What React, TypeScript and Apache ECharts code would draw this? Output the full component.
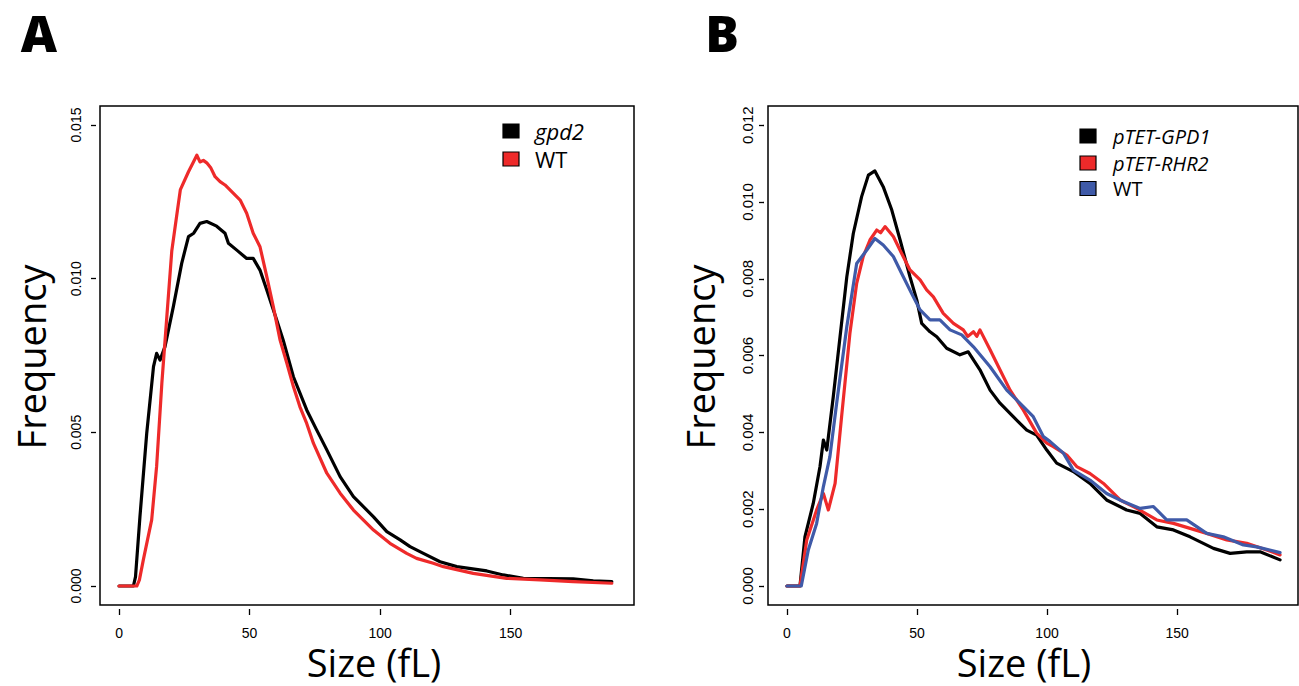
import React, { useEffect, useRef } from "react";
import * as echarts from "echarts";

// ---------- data ----------
const X_TICKS = [0, 50, 100, 150];
const Y_TICKS_A = [0, 0.005, 0.01, 0.015];
const Y_TICKS_B = [0, 0.002, 0.004, 0.006, 0.008, 0.01, 0.012];

const NAMES_A = ["gpd2", "WT"];
const ITALIC_A = [true, false];
const NAMES_B = ["pTET-GPD1", "pTET-RHR2", "WT"];
const ITALIC_B = [true, true, false];

const A_GPD2: [number, number][] = [
  [0, 0], [5.5, 0], [6.3, 0.0003], [8, 0.00225], [10.6, 0.00497], [13.2, 0.00714], [14.4, 0.00757],
  [15.7, 0.00735], [17.6, 0.00779], [20.8, 0.00909], [24, 0.0105], [26.6, 0.01137], [28.6, 0.01148],
  [31, 0.0118], [33.6, 0.01186], [37.4, 0.01171], [40.6, 0.01148], [41.9, 0.01115], [45.1, 0.01093],
  [48.9, 0.01066], [51.4, 0.01066], [54, 0.01028], [56.6, 0.00963], [60.4, 0.00866], [62.9, 0.008],
  [66.8, 0.00681], [71.9, 0.00573], [75.7, 0.00508], [79.6, 0.00443], [84.7, 0.00356], [89.8, 0.00291],
  [97.5, 0.00225], [102.6, 0.00177], [107.7, 0.0015], [111.5, 0.00128], [116.6, 0.00106], [123, 0.00079],
  [129.4, 0.00063], [140.9, 0.00049], [147.2, 0.00036], [154.9, 0.00025], [174, 0.00023], [181.7, 0.00017],
  [188.8, 0.00014],
];
const A_WT: [number, number][] = [
  [0, 0], [6.8, 0], [7.8, 0.0002], [9.3, 0.00085], [12.5, 0.00215], [14.4, 0.0039], [16.4, 0.0066],
  [18.3, 0.00876], [20.2, 0.0109], [22, 0.012], [23.5, 0.0129], [26.6, 0.01348], [28.5, 0.0138],
  [29.8, 0.01402], [31, 0.0138], [32.3, 0.01385], [33.6, 0.01377], [35.2, 0.0136], [36.8, 0.01332],
  [38.7, 0.01316], [40.6, 0.01305], [42.5, 0.01289], [46.4, 0.01256], [48.9, 0.01213], [51.4, 0.01148],
  [54, 0.01104], [56.6, 0.01007], [59.1, 0.00909], [61.7, 0.008], [64.3, 0.00725], [66.8, 0.00649],
  [69.3, 0.00583], [71.9, 0.00529], [74.5, 0.00464], [79.6, 0.00367], [84.7, 0.00302], [89.8, 0.00247],
  [97.5, 0.00182], [103.8, 0.00139], [110.2, 0.00106], [114, 0.0009], [120.4, 0.00074], [124.3, 0.00063],
  [135.7, 0.00041], [148.5, 0.00025], [161.3, 0.0002], [174, 0.00014], [188.8, 0.00009],
];
const B_GPD1: [number, number][] = [
  [0, 0], [5, 0], [6.9, 0.00128], [10.1, 0.00215], [12.7, 0.00311], [14, 0.0038], [15.3, 0.00354],
  [17.8, 0.00493], [20.4, 0.00649], [23, 0.00805], [25.5, 0.00918], [28.7, 0.01014], [31.3, 0.0107],
  [33.8, 0.01081], [37, 0.0104], [40.3, 0.00979], [43.5, 0.00901], [47.3, 0.00805], [49.9, 0.00745],
  [51.8, 0.00684], [55, 0.00662], [57.6, 0.00649], [61.4, 0.00619], [66.5, 0.00602], [69.7, 0.0061],
  [74.2, 0.00563], [78.1, 0.0051], [81.9, 0.00476], [87, 0.00441], [92.2, 0.00406], [96, 0.00393],
  [99.9, 0.00354], [103.7, 0.0032], [110.1, 0.00298], [116.5, 0.00267], [122.9, 0.00224], [130.6, 0.00198],
  [135.8, 0.00189], [142.2, 0.00154], [148.6, 0.00146], [155, 0.00128], [164, 0.00098], [170.4, 0.00085],
  [176.8, 0.00089], [181.9, 0.00089], [189.6, 0.00068],
];
const B_RHR2: [number, number][] = [
  [0, 0], [5, 0], [7.6, 0.0012], [11.4, 0.00198], [14, 0.00241], [15.9, 0.00198], [18.5, 0.00267],
  [21, 0.00441], [24.2, 0.00658], [26.8, 0.00788], [29.3, 0.00858], [31.9, 0.00901], [34.5, 0.00927],
  [36, 0.0092], [37.7, 0.00936], [40.9, 0.0091], [44.1, 0.00866], [47.3, 0.00823], [51.2, 0.00797],
  [53.7, 0.00771], [56.3, 0.00753], [60.1, 0.0071], [64, 0.00684], [67.8, 0.00667], [69.5, 0.0065],
  [71.7, 0.00662], [73, 0.0065], [74.2, 0.00667], [78.1, 0.00615], [81.9, 0.00563], [85.8, 0.0051],
  [90.9, 0.00458], [96, 0.00398], [99.9, 0.00372], [102.4, 0.00363], [107.6, 0.00341], [111.4, 0.00311],
  [116.5, 0.00293], [121.7, 0.00267], [128.1, 0.00224], [134.5, 0.00202], [142.2, 0.00172], [148.6, 0.00163],
  [155, 0.0015], [161.4, 0.00137], [169.1, 0.0012], [176.8, 0.00111], [184.5, 0.00094], [189.6, 0.00081],
];
const B_WT: [number, number][] = [
  [0, 0], [5.5, 0], [8.2, 0.00094], [11.4, 0.00163], [14, 0.00259], [16.5, 0.00337], [19.1, 0.00476],
  [23, 0.00675], [26.8, 0.0084], [30.7, 0.00875], [33.8, 0.00905], [37, 0.00888], [40.9, 0.00858],
  [44.1, 0.00814], [47.9, 0.00762], [51.2, 0.00719], [55, 0.00693], [58.8, 0.00693], [62.7, 0.00667],
  [67.2, 0.00654], [71.7, 0.00623], [78.1, 0.00571], [84.5, 0.0051], [90.9, 0.00467], [94.7, 0.00441],
  [98.6, 0.00389], [101.2, 0.00376], [106.3, 0.00346], [110.1, 0.00302], [116.5, 0.00276], [122.9, 0.00241],
  [129.3, 0.0022], [135.8, 0.00202], [140.9, 0.00207], [146, 0.00172], [153.7, 0.00172], [161.4, 0.00137],
  [167.8, 0.00128], [175.5, 0.00107], [180.6, 0.00102], [189.6, 0.00087],
];

// ---------- styles ----------
const BLACK = "#000000";
const RED = "#ee2a2a";
const BLUE = "#3f5aa8";
const COLORS_A = [BLACK, RED];
const COLORS_B = [BLACK, RED, BLUE];
const TICK_FONT = "'Liberation Sans', Arial, Helvetica, sans-serif";
const TITLE_FONT = "'Open Sans', 'Noto Sans', sans-serif";

function xAxis(gridIndex: number, min: number, max: number) {
  return {
    type: "value",
    gridIndex,
    min,
    max,
    position: "bottom",
    offset: 4,
    axisLine: { show: false, onZero: false },
    splitLine: { show: false },
    axisTick: { show: true, length: 6, lineStyle: { color: "#000", width: 1.3 }, customValues: X_TICKS },
    axisLabel: {
      customValues: X_TICKS,
      margin: 17,
      fontSize: 14,
      lineHeight: 14,
      color: "#000",
      fontFamily: TICK_FONT,
      formatter: (v: number) => String(v),
    },
  };
}

function yAxis(gridIndex: number, min: number, max: number, ticks: number[], margin: number, fs: number) {
  return {
    type: "value",
    gridIndex,
    min,
    max,
    position: "left",
    offset: 4,
    axisLine: { show: false, onZero: false },
    splitLine: { show: false },
    axisTick: { show: true, length: 5, lineStyle: { color: "#000", width: 1.3 }, customValues: ticks },
    axisLabel: {
      customValues: ticks,
      rotate: 90,
      margin,
      fontSize: fs,
      color: "#000",
      fontFamily: TICK_FONT,
      formatter: (v: number) => v.toFixed(3),
    },
  };
}

function line(name: string, data: [number, number][], color: string, idx: number) {
  return {
    type: "line",
    name,
    data,
    xAxisIndex: idx,
    yAxisIndex: idx,
    showSymbol: false,
    symbol: "none",
    lineStyle: { color, width: 3.2, cap: "round", join: "round" },
    silent: true,
  };
}

function legendGraphics(names: string[], italic: boolean[], colors: string[], sqX: number, ys: number[], textX: number, fs: number) {
  const els: any[] = [];
  names.forEach((n, i) => {
    els.push({
      type: "rect",
      shape: { x: sqX - 8, y: ys[i] - 7, width: 16, height: 14 },
      style: { fill: colors[i], stroke: "#000", lineWidth: 1.2 },
    });
    els.push({
      type: "text",
      x: textX,
      y: ys[i],
      style: {
        text: n,
        fontSize: fs,
        lineHeight: fs,
        fontFamily: TITLE_FONT,
        fontStyle: italic[i] ? "italic" : "normal",
        fill: "#000",
        textAlign: "left",
        textVerticalAlign: "middle",
      },
    });
  });
  return els;
}

export default function App() {
  const ref = useRef<HTMLDivElement>(null);
  useEffect(() => {
    if (!ref.current) return;
    const chart = echarts.init(ref.current, undefined, { renderer: "svg" });
    const titleStyle = (text: string) => ({
      text,
      fontSize: 38,
      lineHeight: 34,
      fontFamily: TITLE_FONT,
      fill: "#000",
      textAlign: "center",
      textVerticalAlign: "middle",
    });
    const letterStyle = (text: string) => ({
      text,
      fontSize: 50,
      lineHeight: 50,
      fontWeight: 900,
      fontFamily: TITLE_FONT,
      fill: "#000",
      textAlign: "center",
      textVerticalAlign: "middle",
    });
    chart.setOption({
      animation: false,
      backgroundColor: "#ffffff",
      grid: [
        { left: 100, top: 106, width: 534, height: 499, show: true, borderColor: "#000", borderWidth: 1.5, backgroundColor: "transparent" },
        { left: 768, top: 106, width: 530, height: 499, show: true, borderColor: "#000", borderWidth: 1.5, backgroundColor: "transparent" },
      ],
      xAxis: [xAxis(0, -7.3, 197.3), xAxis(1, -7.3, 196.5)],
      yAxis: [
        yAxis(0, -0.000618, 0.01562, Y_TICKS_A, 13, 14),
        yAxis(1, -0.000495, 0.0125, Y_TICKS_B, 9, 15),
      ],
      series: [
        line(NAMES_A[0], A_GPD2, COLORS_A[0], 0),
        line(NAMES_A[1], A_WT, COLORS_A[1], 0),
        line(NAMES_B[0], B_GPD1, COLORS_B[0], 1),
        line(NAMES_B[1], B_RHR2, COLORS_B[1], 1),
        line(NAMES_B[2], B_WT, COLORS_B[2], 1),
      ],
      graphic: [
        { type: "text", x: 39, y: 33, style: letterStyle("A") },
        { type: "text", x: 722, y: 33, style: letterStyle("B") },
        { type: "text", x: 374, y: 662, style: titleStyle("Size (fL)") },
        { type: "text", x: 1024, y: 662, style: titleStyle("Size (fL)") },
        { type: "text", x: 31, y: 357, rotation: Math.PI / 2, style: titleStyle("Frequency") },
        { type: "text", x: 700, y: 357, rotation: Math.PI / 2, style: titleStyle("Frequency") },
        ...legendGraphics(NAMES_A, ITALIC_A, COLORS_A, 511, [131, 159], 535, 22),
        ...legendGraphics(NAMES_B, ITALIC_B, COLORS_B, 1088, [136, 163, 188.5], 1113, 20),
      ],
    });
    return () => chart.dispose();
  }, []);
  return <div ref={ref} style={{ position: "absolute", left: 0, top: 0, width: 1299, height: 686 }} />;
}
